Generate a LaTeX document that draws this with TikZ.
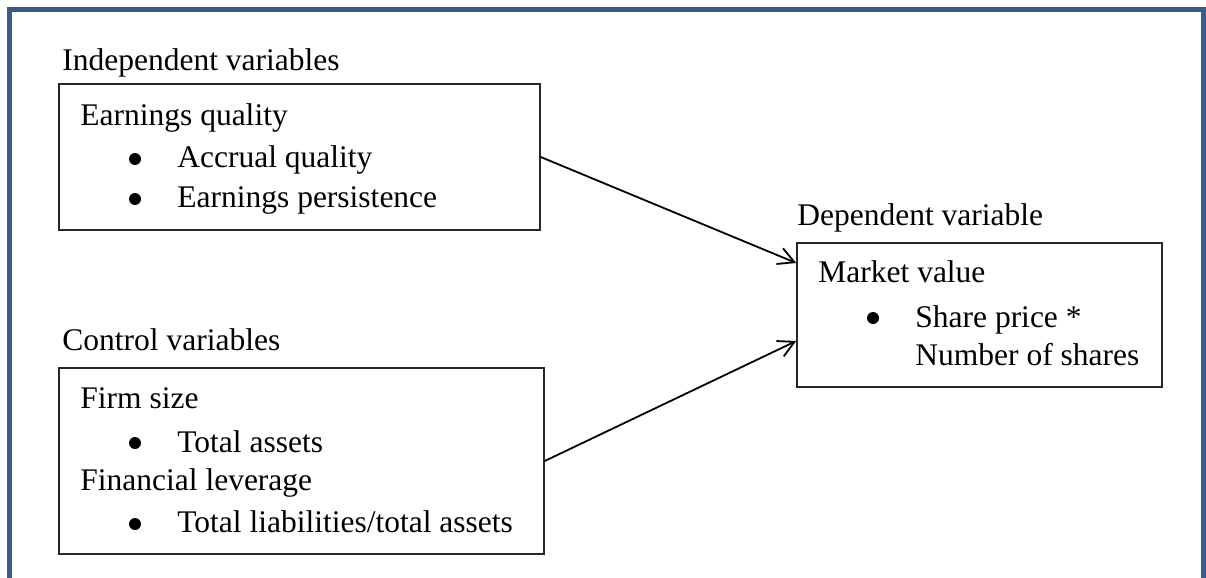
\documentclass[tikz,border=0pt]{standalone}
\usepackage{fontspec}
\setmainfont{Liberation Serif}
\usetikzlibrary{arrows.meta}
\definecolor{frameblue}{HTML}{385D8A}

\begin{document}
\begin{tikzpicture}[x=0.5pt,y=-0.5pt,
  box/.style={draw=black!85,line width=0.75pt,inner sep=0pt},
  txt/.style={anchor=base west,inner sep=0pt,font=\fontsize{15.75pt}{19pt}\selectfont},
  dot/.style={circle,fill=black,inner sep=0pt,minimum size=6pt},
  link/.style={-{Straight Barb[length=8pt,width=8.5pt]},line width=0.9pt}]

\useasboundingbox (0,0) rectangle (1206,578);

\draw[frameblue,line width=2.5pt] (9.5,578) -- (9.5,9.5) -- (1203.5,9.5) -- (1203.5,578);

\node[box,minimum width=240.5pt,minimum height=73pt] (indep) at (299.5,157) {};
\node[box,minimum width=242.5pt,minimum height=93pt] (ctrl) at (301.5,461) {};
\node[box,minimum width=182.5pt,minimum height=72pt] (dep) at (979.5,315) {};

\node[txt] (lindep) at (62,70) {Independent variables};
\node[txt] (eq) at (80,125) {Earnings quality};
\node[dot] (b1) at (135,159) {};
\node[txt] (aq) at (177,167) {Accrual quality};
\node[dot] (b2) at (135,199) {};
\node[txt] (ep) at (177,207) {Earnings persistence};

\node[txt] (lctrl) at (62,350) {Control variables};
\node[txt] (fs) at (80,408) {Firm size};
\node[dot] (b3) at (135,443) {};
\node[txt] (ta) at (177,452) {Total assets};
\node[txt] (fl) at (80,490) {Financial leverage};
\node[dot] (b4) at (135,524) {};
\node[txt] (tl) at (177,532) {Total liabilities/total assets};

\node[txt] (ldep) at (797,225) {Dependent variable};
\node[txt] (mv) at (818,282) {Market value};
\node[dot] (b5) at (873,318) {};
\node[txt] (sp) at (915,327) {Share price *};
\node[txt] (ns) at (915,365) {Number of shares};

\draw[link] (indep.east) -- ([yshift=26pt]dep.west);
\draw[link] (ctrl.east) -- ([yshift=-13pt]dep.west);

\end{tikzpicture}
\end{document}
